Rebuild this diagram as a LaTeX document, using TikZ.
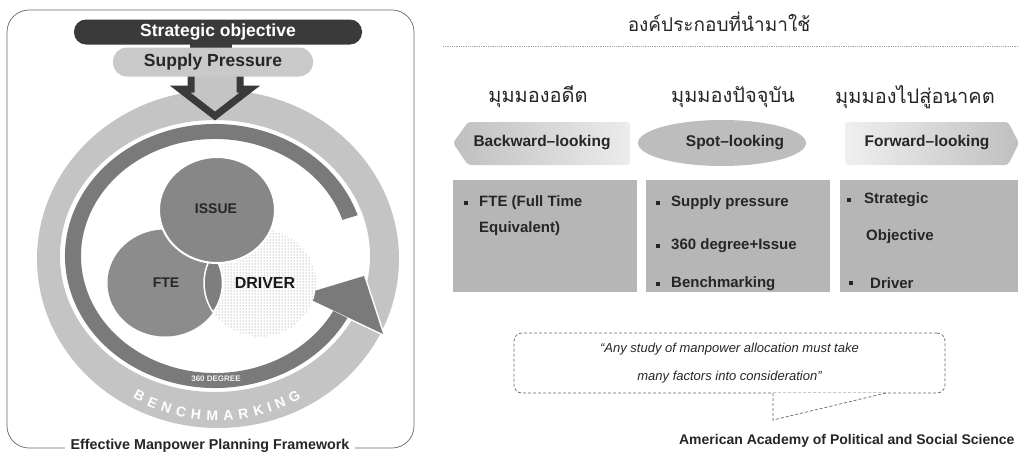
\documentclass[tikz,border=0pt]{standalone}
\usepackage{fontspec}
\setmainfont{Liberation Sans}
\newfontfamily\thaifont[Script=Thai]{Loma}
\usetikzlibrary{positioning,shapes.geometric,patterns,calc}

\definecolor{ringlight}{HTML}{C4C4C4}
\definecolor{ringdark}{HTML}{7A7A7A}
\definecolor{pilldark}{HTML}{3A3A3A}
\definecolor{pilllight}{HTML}{C9C9C9}
\definecolor{issuegray}{HTML}{878787}
\definecolor{ftegray}{HTML}{8C8C8C}
\definecolor{lensgray}{HTML}{7E7E7E}
\definecolor{boxgray}{HTML}{B6B6B6}
\definecolor{textdark}{HTML}{262626}

\begin{document}
\begin{tikzpicture}[x=1pt, y=-1pt,
  pill/.style={inner sep=0pt, font=\bfseries\fontsize{17.5}{17.5}\selectfont},
  venn/.style={inner sep=0pt, font=\bfseries\fontsize{14}{14}\selectfont, text=textdark},
  thaihead/.style={font=\thaifont\fontsize{20}{20}\selectfont, text=textdark},
  view/.style={font=\bfseries\fontsize{15.5}{15.5}\selectfont, text=textdark},
  item/.style={anchor=west, inner sep=0pt, font=\bfseries\fontsize{15}{15}\selectfont, text=textdark},
  bullet/.style={fill=textdark, minimum size=3.5pt, inner sep=0pt},
  bmletter/.style={inner sep=0pt, text=white, font=\bfseries\fontsize{14}{14}\selectfont},
  outline/.style={draw=gray!80!black, line width=0.7pt, densely dashed}
]
\useasboundingbox (0,0) rectangle (1021,453);

% ---- left panel: framework ----
\draw[gray!80!black, line width=0.7pt, rounded corners=22pt] (7,10) rectangle (414,448);

% outer light ring
\fill[ringlight, even odd rule] (218,259) ellipse [x radius=181, y radius=169]
  (215,256) ellipse [x radius=155, y radius=136];

% dark ring with arrow head
\coordinate (hl) at (301,295);
\coordinate (ht) at (364,276);
\coordinate (hr) at (383,334);
\filldraw[fill=ringdark, draw=white, line width=3pt, line join=round] (hl) -- (ht) -- (hr) -- cycle;
\fill[ringdark] ($(215,256)+(28:150 and 132)$)
  arc[start angle=28, end angle=342, x radius=150, y radius=132]
  -- ($(215,256)+(342:134 and 117)$)
  arc[start angle=342, end angle=28, x radius=134, y radius=117] -- cycle;
\fill[ringdark] (hl) -- (ht) -- (hr) -- cycle;

\node[text=white!90!gray, font=\bfseries\fontsize{8}{8}\selectfont] (deg) at (216,379) {360 DEGREE};

\foreach \l/\ang [count=\i] in {B/118.8, E/113.6, N/108.3, C/102.9, H/97.5, M/91.7,
    A/86.0, R/80.6, K/75.1, I/71.0, N/66.9, G/61.3}{
  \node[bmletter, rotate={90-\ang}] (bm\i) at ($(217,255)+(\ang:161)$) {\l};
}

% down arrow from supply pressure
\filldraw[draw=pilldark, fill=ringlight, line width=7pt, line join=miter]
  (191,72) -- (191,89) -- (180,89) -- (215,116) -- (250,89) -- (240,89) -- (240,72);

% objective / pressure bars
\fill[pilldark] (190,40) rectangle (232,51);
\node[pill, fill=pilldark, text=white, rounded corners=12pt,
  minimum width=288pt, minimum height=25pt] (strat) at (218,32) {Strategic objective};
\node[pill, fill=pilllight, text=textdark, rounded corners=14pt,
  minimum width=200pt, minimum height=29pt] (supply) at (213,62) {Supply Pressure};

% venn circles
\coordinate (cdrv) at (260,283);
\coordinate (cfte) at (165,283);
\coordinate (ciss) at (217,210);
\fill[white] (cdrv) ellipse [x radius=56, y radius=53.5];
\fill[pattern=dots, pattern color=black!55] (cdrv) ellipse [x radius=56, y radius=53.5];
\fill[ftegray] (cfte) ellipse [x radius=57.5, y radius=53.5];
\begin{scope}
  \clip (cfte) ellipse [x radius=57.5, y radius=53.5];
  \filldraw[fill=lensgray, draw=white, line width=1.5pt] (cdrv) ellipse [x radius=56, y radius=53.5];
\end{scope}
\begin{scope}
  \clip (cdrv) ellipse [x radius=56, y radius=53.5];
  \draw[white, line width=1.5pt] (cfte) ellipse [x radius=57.5, y radius=53.5];
\end{scope}
\filldraw[fill=issuegray, draw=white, line width=2pt] (ciss) ellipse [x radius=58, y radius=53];

\node[venn] (issue) at (216,209) {ISSUE};
\node[venn] (fte) at (166,283) {FTE};
\node[venn, font=\bfseries\fontsize{16}{16}\selectfont, text=black!90] (driver) at (265,283) {DRIVER};

\node[fill=white, inner xsep=6pt, inner ysep=2pt, text=textdark,
  font=\bfseries\fontsize{14.3}{14.3}\selectfont] (caption) at (210,446) {Effective Manpower Planning Framework};

% ---- right panel: components ----
\node[thaihead, font=\thaifont\fontsize{19}{19}\selectfont] (title) at (719,22) {องค์ประกอบที่นำมาใช้};
\coordinate (rulel) at (443,46);
\coordinate (ruler) at (1019,46);
\draw[gray!70, densely dotted, line width=0.8pt] (rulel) -- (ruler);

\node[thaihead] (past) at (538,97) {มุมมองอดีต};
\node[thaihead] (now) at (733,97) {มุมมองปัจจุบัน};
\node[thaihead] (future) at (915,97) {มุมมองไปสู่อนาคต};

\shade[left color=gray!50, right color=gray!15, rounded corners=3pt]
  (453,143) -- (468,122) -- (630,122) -- (630,165) -- (468,165) -- cycle;
\fill[gray!52] (722,143) ellipse [x radius=84, y radius=23];
\shade[left color=gray!12, right color=gray!50, rounded corners=3pt]
  (845,122) -- (1008,122) -- (1019,143) -- (1008,165) -- (845,165) -- cycle;

\node[view] (back) at (542,143) {Backward–looking};
\node[view] (spot) at (735,143) {Spot–looking};
\node[view] (fwd) at (927,143) {Forward–looking};

\fill[boxgray] (453,180) rectangle (637,292);
\fill[boxgray] (646,180) rectangle (830,292);
\fill[boxgray] (840,180) rectangle (1018,292);

\foreach \x/\y [count=\i] in {466/203, 658/203, 658/246, 658/284, 849/200, 851/283}
  \node[bullet] (dot\i) at (\x,\y) {};

\node[item] (fte1) at (479,203) {FTE (Full Time};
\node[item] (fte2) at (479,229) {Equivalent)};
\node[item] (spot1) at (671,203) {Supply pressure};
\node[item] (spot2) at (671,246) {360 degree+Issue};
\node[item] (spot3) at (671,284) {Benchmarking};
\node[item] (fwd1) at (864,200) {Strategic};
\node[item] (fwd2) at (866,237) {Objective};
\node[item] (fwd3) at (870,283) {Driver};

% quotation bubble
\node[outline, rounded corners=8pt, minimum width=431pt, minimum height=60pt,
  align=center, text=textdark, font=\itshape\fontsize{13}{28}\selectfont] (quote) at (729.5,363)
  {“Any study of manpower allocation must take\\many factors into consideration”};
\coordinate (pl) at (773,393);
\coordinate (pr) at (886,393);
\coordinate (tip) at (773,420);
\fill[white] (pl) -- (tip) -- (pr) -- cycle;
\draw[outline] (pl) -- (tip) -- (pr);

\node[anchor=east, text=textdark, font=\bfseries\fontsize{14}{14}\selectfont] (source) at (1018,441)
  {American Academy of Political and Social Science};
\end{tikzpicture}
\end{document}
